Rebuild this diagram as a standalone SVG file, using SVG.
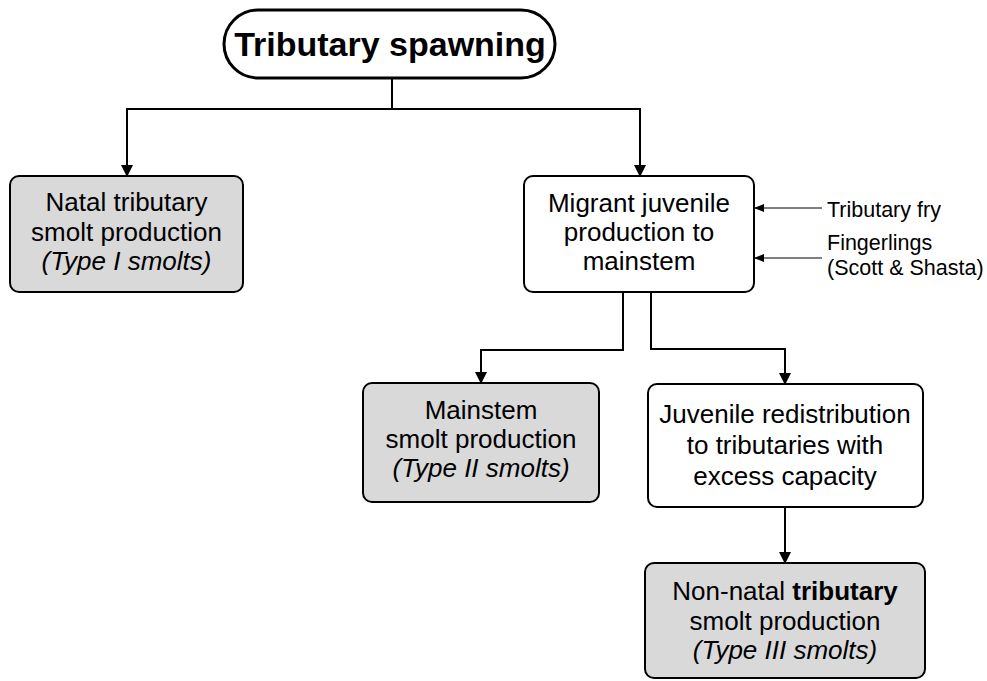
<svg xmlns="http://www.w3.org/2000/svg" width="987" height="681" viewBox="0 0 987 681">
  <defs>
    <marker id="arrow" markerWidth="12" markerHeight="12" refX="11" refY="6" orient="auto" markerUnits="userSpaceOnUse" viewBox="0 0 12 12">
      <path d="M0,0 L12,6 L0,12 z" fill="#000"/>
    </marker>
    <marker id="arrow-thin" markerWidth="10" markerHeight="8" refX="9" refY="4" orient="auto" markerUnits="userSpaceOnUse" viewBox="0 0 10 8">
      <path d="M0,0 L10,4 L0,8 z" fill="#000"/>
    </marker>
    <style>
      text { font-family: "Liberation Sans", Arial, sans-serif; fill: #000; }
      .box { fill: #fff; stroke: #000; stroke-width: 2; }
      .box.shaded { fill: #d9d9d9; }
      .pill { fill: #fff; stroke: #000; stroke-width: 3; }
      .lbl { font-size: 26px; text-anchor: middle; }
      .title { font-size: 34px; font-weight: bold; text-anchor: middle; }
      .side { font-size: 21.5px; }
      .conn { fill: none; stroke: #000; stroke-width: 2; marker-end: url(#arrow); }
      .conn-plain { fill: none; stroke: #000; stroke-width: 2; }
      .feed { fill: none; stroke: #000; stroke-width: 1; marker-end: url(#arrow-thin); }
    </style>
  </defs>

  <!-- connectors -->
  <g id="connectors">
    <path class="conn-plain" d="M392,78 V109"/>
    <path class="conn" d="M392,109 H127 V176"/>
    <path class="conn" d="M392,109 H640 V176"/>
    <path class="conn" d="M623,292 V350 H481 V383"/>
    <path class="conn" d="M651,292 V349 H785 V384"/>
    <path class="conn" d="M785,507 V563"/>
    <path class="feed" d="M822,208 H755"/>
    <path class="feed" d="M822,258 H755"/>
  </g>

  <!-- root -->
  <g id="tributary-spawning">
    <rect class="pill" x="224" y="10" width="331" height="68" rx="34" ry="34"/>
    <text class="title" x="390" y="56">Tributary spawning</text>
  </g>

  <g id="natal-tributary">
    <rect class="box shaded" x="10" y="176" width="233" height="116" rx="9"/>
    <text class="lbl" x="126.5" y="211">Natal tributary</text>
    <text class="lbl" x="126.5" y="241">smolt production</text>
    <text class="lbl" x="126.5" y="270" font-style="italic">(Type I smolts)</text>
  </g>

  <g id="migrant-juvenile">
    <rect class="box" x="524" y="176" width="230" height="116" rx="9"/>
    <text class="lbl" x="639" y="212">Migrant juvenile</text>
    <text class="lbl" x="639" y="241">production to</text>
    <text class="lbl" x="639" y="270">mainstem</text>
  </g>

  <g id="inputs">
    <text class="side" x="827" y="217">Tributary fry</text>
    <text class="side" x="827" y="250">Fingerlings</text>
    <text class="side" x="827" y="275">(Scott &amp; Shasta)</text>
  </g>

  <g id="mainstem">
    <rect class="box shaded" x="363" y="383" width="236" height="119" rx="9"/>
    <text class="lbl" x="481" y="419">Mainstem</text>
    <text class="lbl" x="481" y="448">smolt production</text>
    <text class="lbl" x="481" y="477" font-style="italic">(Type II smolts)</text>
  </g>

  <g id="redistribution">
    <rect class="box" x="648" y="384" width="275" height="123" rx="9"/>
    <text class="lbl" x="785" y="423">Juvenile redistribution</text>
    <text class="lbl" x="785" y="454">to tributaries with</text>
    <text class="lbl" x="785" y="485">excess capacity</text>
  </g>

  <g id="non-natal">
    <rect class="box shaded" x="645" y="563" width="280" height="115" rx="9"/>
    <text class="lbl" x="785" y="600">Non-natal <tspan font-weight="bold">tributary</tspan></text>
    <text class="lbl" x="785" y="630">smolt production</text>
    <text class="lbl" x="785" y="659" font-style="italic">(Type III smolts)</text>
  </g>
</svg>
